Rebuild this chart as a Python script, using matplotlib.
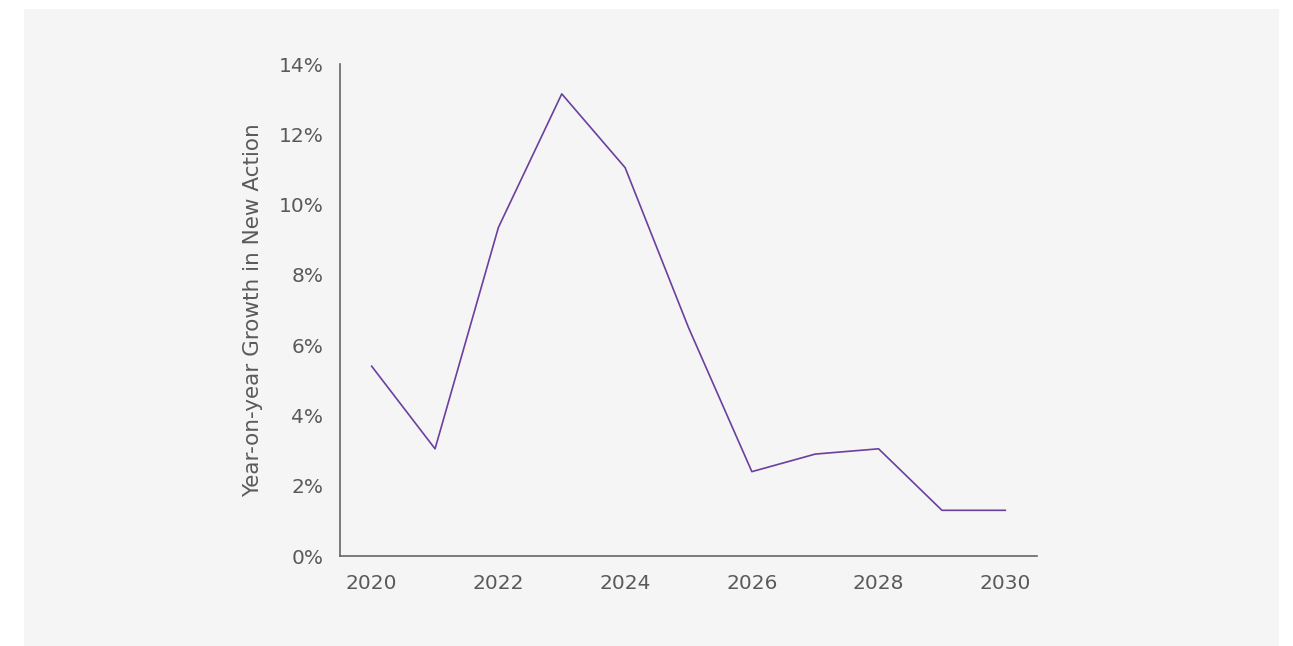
import matplotlib
matplotlib.use("Agg")
import matplotlib.pyplot as plt
from matplotlib.patches import Rectangle
from matplotlib.ticker import FuncFormatter

# Données
years = [2020, 2021, 2022, 2023, 2024, 2025, 2026, 2027, 2028, 2029, 2030]
growth = [5.4, 3.05, 9.35, 13.15, 11.05, 6.5, 2.4, 2.9, 3.05, 1.3, 1.3]
y_ticks = [0, 2, 4, 6, 8, 10, 12, 14]
x_ticks = [2020, 2022, 2024, 2026, 2028, 2030]

plt.rcParams['font.family'] = ['DejaVu Sans']
text_color = "#5a5a5a"

fig = plt.figure(figsize=(12.93, 6.46), dpi=100)
fig.patches.append(Rectangle((24 / 1293, 0), 1255 / 1293, 637 / 646,
                             transform=fig.transFigure, facecolor="#f5f5f5",
                             edgecolor="none", zorder=-1))

ax = fig.add_axes([340 / 1293, 90 / 646, 697 / 1293, 492 / 646])
ax.set_facecolor("none")
ax.plot(years, growth, color="#6b3fa0", linewidth=1.2)

ax.set_xlim(2019.5, 2030.5)
ax.set_ylim(0, 14)
ax.set_xticks(x_ticks)
ax.set_yticks(y_ticks)
ax.yaxis.set_major_formatter(FuncFormatter(lambda v, p: f"{v:.0f}%"))
ax.tick_params(length=0, labelsize=14.5, colors=text_color, pad=12)
ax.tick_params(axis="x", pad=13)
ax.set_ylabel("Year-on-year Growth in New Action", fontsize=15.5,
              color=text_color, labelpad=11)

for side in ["top", "right"]:
    ax.spines[side].set_visible(False)
for side in ["left", "bottom"]:
    ax.spines[side].set_color("#666666")
    ax.spines[side].set_linewidth(1.2)

fig.savefig("out.png", dpi=100)
